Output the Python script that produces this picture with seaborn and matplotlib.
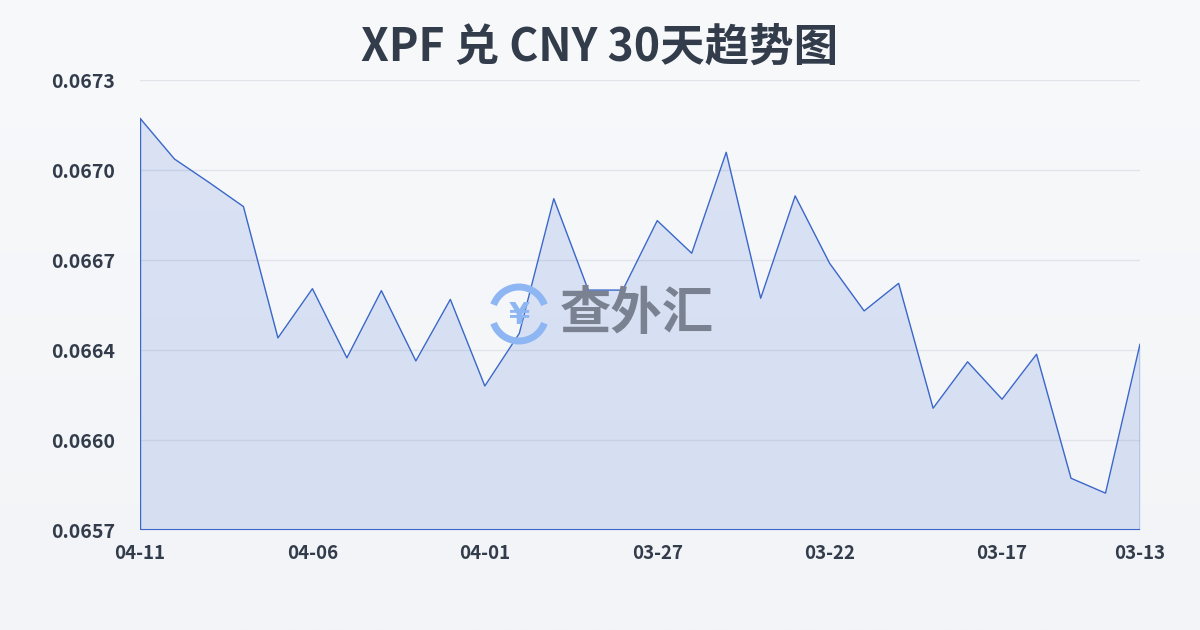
import matplotlib
matplotlib.use("Agg")
import matplotlib.pyplot as plt
from matplotlib.patches import Arc
import numpy as np
import pandas as pd
import seaborn as sns

# XPF -> CNY, newest first (as drawn left to right)
dates = ["04-11", "04-10", "04-09", "04-08", "04-07", "04-06", "04-05", "04-04",
         "04-03", "04-02", "04-01", "03-31", "03-30", "03-29", "03-28", "03-27",
         "03-26", "03-25", "03-24", "03-23", "03-22", "03-21", "03-20", "03-19",
         "03-18", "03-17", "03-16", "03-15", "03-14", "03-13"]
rates = [0.067184, 0.067039, 0.066956, 0.066870, 0.066403, 0.066578, 0.066332,
         0.066571, 0.066321, 0.066540, 0.066232, 0.066419, 0.066898, 0.066573,
         0.066573, 0.066820, 0.066704, 0.067063, 0.066544, 0.066908, 0.066668,
         0.066499, 0.066597, 0.066153, 0.066318, 0.066185, 0.066345, 0.065904,
         0.065851, 0.066381]
tick_dates = ["04-11", "04-06", "04-01", "03-27", "03-22", "03-17", "03-13"]
y_min, y_max = 0.06572, 0.06732

df = pd.DataFrame({"date": dates, "rate": rates})
df["pos"] = range(len(df))

sns.set_style("white")
plt.rcParams["font.family"] = ["Noto Sans CJK SC", "DejaVu Sans"]

bg = "#f4f6f9"
line_c = "#3a67c9"
text_c = "#333c4b"

fig = plt.figure(figsize=(12, 6.3), dpi=100, facecolor=bg)

# soft vertical background gradient
bax = fig.add_axes([0, 0, 1, 1], zorder=-10)
grad = np.linspace(0, 1, 256).reshape(-1, 1)
bax.imshow(grad, aspect="auto", extent=[0, 1, 0, 1],
           cmap=matplotlib.colors.LinearSegmentedColormap.from_list("bg", ["#f8f9fb", "#f2f4f7"]))
bax.axis("off")

ax = fig.add_axes([140 / 1200, 1 - 530 / 630, 1000 / 1200, 450 / 630])
ax.set_facecolor("none")

sns.lineplot(data=df, x="pos", y="rate", ax=ax, color=line_c, linewidth=1.0, zorder=3)
ax.fill_between(df["pos"], df["rate"], y_min, color="#4a78d6", alpha=0.17, linewidth=0, zorder=2)
ax.vlines([df["pos"].iloc[0], df["pos"].iloc[-1]], y_min, [rates[0], rates[-1]],
          color=line_c, linewidth=1.0, zorder=3)
ax.hlines(y_min, 0, len(df) - 1, color=line_c, linewidth=1.5, zorder=3)

ax.set_xlim(0, len(df) - 1)
ax.set_ylim(y_min, y_max)
yt = np.linspace(y_min, y_max, 6)
ax.set_yticks(yt)
ax.set_yticklabels([f"{v:.4f}" for v in yt], fontsize=14, fontweight="bold", color=text_c)
xt = [dates.index(d) for d in tick_dates]
ax.set_xticks(xt)
ax.set_xticklabels(tick_dates, fontsize=13.5, fontweight="bold", color=text_c)
ax.tick_params(axis="x", length=6, color="#dde1e7", pad=4)
ax.tick_params(axis="y", length=0, pad=18)
ax.grid(axis="y", color="#e1e4ea", linewidth=1)
ax.set_axisbelow(True)
for s in ax.spines.values():
    s.set_visible(False)
ax.set_xlabel("")
ax.set_ylabel("")

fig.text(0.5, 1 - 48 / 630, "XPF 兑 CNY 30天趋势图", ha="center", va="center",
         fontsize=32, fontweight="bold", color=text_c)

# watermark
lax = fig.add_axes([0, 0, 1, 1], facecolor="none")
lax.set_xlim(0, 1200)
lax.set_ylim(630, 0)
lax.axis("off")
logo_c = "#8db6f2"
lax.add_patch(Arc((519, 314), 54, 54, theta1=20, theta2=160, color=logo_c, linewidth=5))
lax.add_patch(Arc((519, 314), 54, 54, theta1=200, theta2=340, color=logo_c, linewidth=5))
lax.text(519, 316, "¥", ha="center", va="center", fontsize=22, fontweight="bold",
         color=logo_c, family=["DejaVu Sans"])
lax.text(560, 314, "查外汇", ha="left", va="center", fontsize=37, fontweight="bold",
         color="#7a8191")

fig.savefig("out.png", dpi=100, facecolor=bg)
